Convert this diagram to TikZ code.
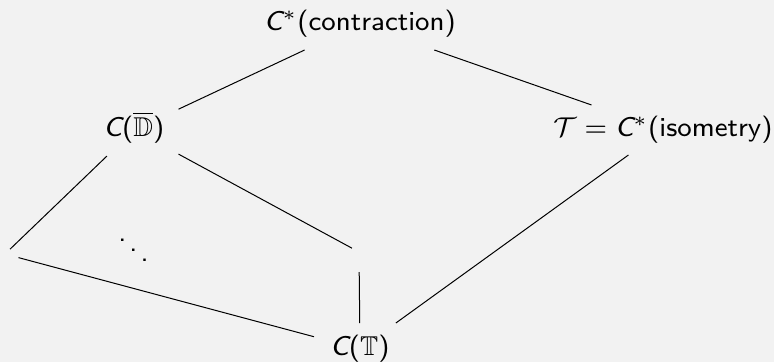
\documentclass[tikz,border=0pt]{standalone}
\usepackage{amssymb}
\usepackage{graphicx}
\definecolor{bgc}{RGB}{242,242,242}
\newcommand{\sfC}{\textsf{\slshape C}}
\newcommand{\bigtxt}[1]{\scalebox{3.4}{\fontsize{8}{10}\selectfont\sffamily #1}}
\tikzset{
  lbl/.style={inner sep=0pt, outer sep=0pt, text height=20.4pt, text depth=6.8pt},
  edge/.style={line width=1pt, draw=black}
}
\begin{document}
\begin{tikzpicture}[x=1pt,y=-1pt]
\fill[bgc] (0,0) rectangle (774,362);
\useasboundingbox (0,0) rectangle (774,362);
\node[lbl, minimum width=216pt, minimum height=52pt] (A) at (360,24) {\bigtxt{$\sfC^{*}$(contraction)}};
\node[lbl, minimum width=89pt, minimum height=52pt] (D) at (134,130) {\bigtxt{$\sfC$($\overline{\mathbb{D}}$)}};
\node[lbl, minimum width=248pt, minimum height=50pt] (T) at (663,130) {\bigtxt{$\mathcal{T} = \sfC^{*}$(isometry)}};
\node[lbl, minimum width=92pt, minimum height=52pt] (CT) at (360,349) {\bigtxt{$\sfC$($\mathbb{T}$)}};
\coordinate (E) at (5,254);
\coordinate (M) at (359,252);
\node[inner sep=0pt] (dots) at (133.5,240) {\bigtxt{$\ddots$}};
\draw[edge] (A) -- (D);
\draw[edge] (A) -- (T);
\draw[edge, shorten >=7pt] (D) -- (E);
\draw[edge, shorten >=8pt] (D) -- (M);
\draw[edge, shorten <=14pt] (E) -- (CT);
\draw[edge, shorten <=20pt] (M) -- (CT);
\draw[edge] (CT) -- (T);
\end{tikzpicture}
\end{document}
